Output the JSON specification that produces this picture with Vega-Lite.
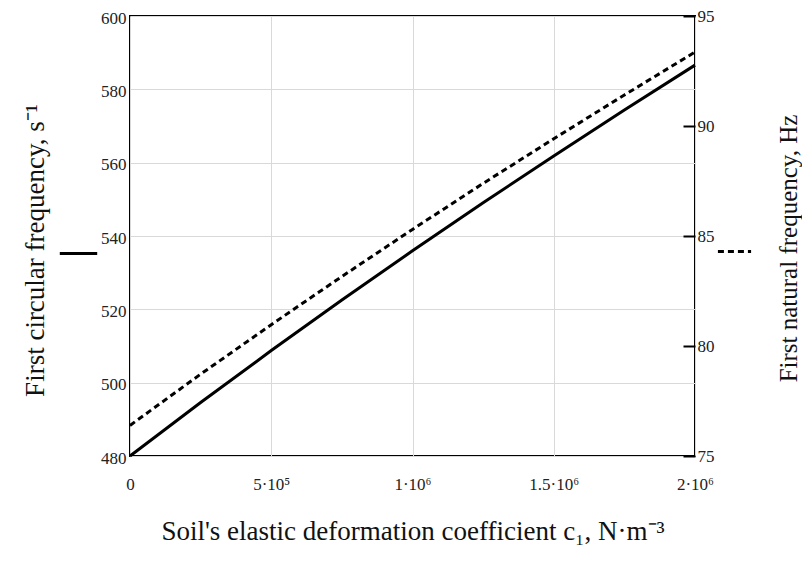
{
  "$schema": "https://vega.github.io/schema/vega-lite/v6.json",
  "autosize": "none",
  "width": 565,
  "height": 440,
  "padding": {"left": 130, "top": 16, "right": 107, "bottom": 105},
  "background": "white",
  "config": {
    "font": "Liberation Serif",
    "view": {"stroke": "black", "strokeWidth": 2},
    "axis": {
      "labelFont": "Liberation Serif",
      "titleFont": "Liberation Serif",
      "labelColor": "#222",
      "titleColor": "#111",
      "titleFontWeight": "normal",
      "gridColor": "#d9d9d9",
      "gridWidth": 1,
      "domainColor": "black",
      "domainWidth": 2
    }
  },
  "data": {
    "values": [
      {"c1": 0, "omega": 480.0, "freq": 76.39, "sOmega": "omega", "sFreq": "freq"},
      {"c1": 250000, "omega": 494.58, "freq": 78.72, "sOmega": "omega", "sFreq": "freq"},
      {"c1": 500000, "omega": 508.75, "freq": 80.97, "sOmega": "omega", "sFreq": "freq"},
      {"c1": 750000, "omega": 522.53, "freq": 83.16, "sOmega": "omega", "sFreq": "freq"},
      {"c1": 1000000, "omega": 535.96, "freq": 85.30, "sOmega": "omega", "sFreq": "freq"},
      {"c1": 1250000, "omega": 549.06, "freq": 87.39, "sOmega": "omega", "sFreq": "freq"},
      {"c1": 1500000, "omega": 561.85, "freq": 89.42, "sOmega": "omega", "sFreq": "freq"},
      {"c1": 1750000, "omega": 574.36, "freq": 91.41, "sOmega": "omega", "sFreq": "freq"},
      {"c1": 2000000, "omega": 586.60, "freq": 93.36, "sOmega": "omega", "sFreq": "freq"}
    ]
  },
  "encoding": {
    "x": {
      "field": "c1",
      "type": "quantitative",
      "scale": {"domain": [0, 2000000], "nice": false, "zero": false},
      "axis": {
        "values": [0, 500000, 1000000, 1500000, 2000000],
        "labelExpr": "datum.value == 0 ? '0' : datum.value == 500000 ? '5·10⁵' : datum.value == 1000000 ? '1·10⁶' : datum.value == 1500000 ? '1.5·10⁶' : '2·10⁶'",
        "labelFontSize": 17,
        "labelPadding": 20,
        "labelFlush": false,
        "ticks": false,
        "domain": false,
        "grid": true,
        "title": "Soil's elastic deformation coefficient  c₁, N·m⁻³",
        "titleFontSize": 27,
        "titleY": 62,
        "titleBaseline": "top"
      }
    }
  },
  "layer": [
    {
      "mark": {"type": "line", "color": "black", "strokeWidth": 3},
      "encoding": {
        "y": {
          "field": "omega",
          "type": "quantitative",
          "scale": {"domain": [480, 600], "nice": false, "zero": false},
          "axis": {
            "orient": "left",
            "values": [480, 500, 520, 540, 560, 580, 600],
            "labelFontSize": 17,
            "labelPadding": 4,
            "labelOffset": 2,
            "ticks": false,
            "domain": false,
            "grid": true,
            "title": "First circular frequency, s⁻¹",
            "titleFontSize": 27,
            "titleAngle": 270,
            "titleX": -95,
            "titleY": 234,
            "titleBaseline": "middle"
          }
        },
        "color": {
          "field": "sOmega",
          "type": "nominal",
          "scale": {"range": ["black"]},
          "legend": {
            "orient": "none",
            "legendX": -72,
            "legendY": 217,
            "title": null,
            "symbolType": "stroke",
            "symbolSize": 1400,
            "symbolStrokeWidth": 3,
            "labelExpr": "''",
            "labelLimit": 1,
            "padding": 0
          }
        }
      }
    },
    {
      "mark": {"type": "line", "color": "black", "strokeWidth": 3},
      "encoding": {
        "y": {
          "field": "freq",
          "type": "quantitative",
          "scale": {"domain": [75, 95], "nice": false, "zero": false},
          "axis": {
            "orient": "right",
            "values": [75, 80, 85, 90, 95],
            "labelFontSize": 17,
            "labelPadding": 14,
            "tickSize": -12,
            "tickColor": "black",
            "tickWidth": 2,
            "domain": false,
            "grid": false,
            "title": "First natural frequency, Hz",
            "titleFontSize": 25,
            "titleAngle": 270,
            "titleX": 93,
            "titleY": 232,
            "titleBaseline": "middle"
          }
        },
        "strokeDash": {
          "field": "sFreq",
          "type": "nominal",
          "scale": {"range": [[6, 4]]},
          "legend": {
            "orient": "none",
            "legendX": 586,
            "legendY": 217,
            "title": null,
            "symbolType": "stroke",
            "symbolSize": 1100,
            "symbolStrokeWidth": 3,
            "symbolStrokeColor": "black",
            "labelExpr": "''",
            "labelLimit": 1,
            "padding": 0
          }
        }
      }
    }
  ],
  "resolve": {"scale": {"y": "independent", "color": "independent", "strokeDash": "independent"}}
}
